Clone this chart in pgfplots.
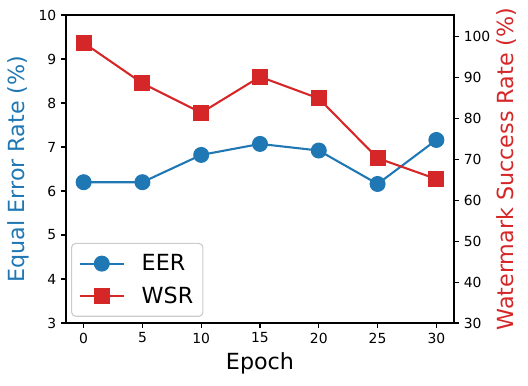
\documentclass[border=0pt]{standalone}
\usepackage{pgfplots}
\pgfplotsset{compat=1.18}
\usepackage{fontspec}
\setmainfont{DejaVu Sans}
\definecolor{tabblue}{HTML}{1F77B4}
\definecolor{tabred}{HTML}{D62728}

\begin{document}
\begin{tikzpicture}
\pgfplotsset{
  every axis/.append style={
    scale only axis, width=279.4bp, height=221.8bp,
    xmin=-1.5, xmax=31.5,
    tick align=outside, major tick length=3.5bp,
    tick style={line width=0.8bp, black},
    axis line style={line width=0.8bp},
    tick label style={font=\fontsize{10bp}{12bp}\selectfont},
    /pgf/number format/assume math mode=true,
    label style={font=\fontsize{16bp}{19bp}\selectfont},
  },
}
\begin{axis}[
  ymin=3, ymax=10,
  xtick={0,5,...,30}, ytick={3,...,10},
  xtick pos=bottom, ytick pos=left,
  xlabel={Epoch},
  ylabel={Equal Error Rate (\%)},
  ylabel style={color=tabblue},
  legend cell align=left,
  legend style={at={(0.013,0.02)}, anchor=south west,
    draw=black!20, rounded corners=3bp, line width=0.8bp,
    font=\fontsize{16bp}{19bp}\selectfont,
    inner xsep=5bp, inner ysep=6bp, row sep=6bp,
    /tikz/every odd column/.append style={column sep=10bp}},
  legend image code/.code={
    \draw[mark repeat=2, mark phase=2] plot coordinates {(0bp,0bp) (16bp,0bp) (32bp,0bp)};},
]
\coordinate (bl) at (rel axis cs:0,0);
\coordinate (tr) at (rel axis cs:1,1);
\addplot[tabblue, line width=1.5bp, mark=*, mark size=5bp, mark options={solid}]
  coordinates {(0,6.2) (5,6.2) (10,6.82) (15,7.07) (20,6.92) (25,6.16) (30,7.16)};
\addlegendentry{EER}
\addlegendimage{tabred, line width=1.5bp, mark=square*, mark size=5bp, mark options={solid}}
\addlegendentry{WSR}
\end{axis}
\begin{axis}[
  ymin=30, ymax=105.3,
  ytick={30,40,...,100},
  axis y line*=right, axis x line=none,
  ylabel={Watermark Success Rate (\%)},
  ylabel style={color=tabred, yshift=2bp},
]
\addplot[tabred, line width=1.5bp, mark=square*, mark size=5bp, mark options={solid}]
  coordinates {(0,98.5) (5,88.6) (10,81.4) (15,90.2) (20,84.9) (25,70.3) (30,65.2)};
\end{axis}
\path ([xshift=-47.52bp, yshift=-44.64bp]bl) rectangle ([xshift=53.28bp, yshift=10.8bp]tr);
\end{tikzpicture}
\end{document}
